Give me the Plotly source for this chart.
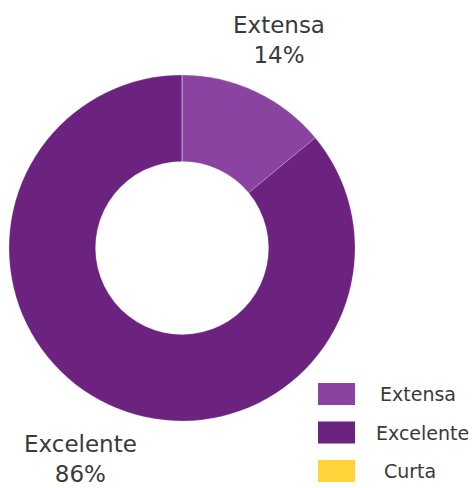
import plotly.graph_objects as go

# Survey answers: share of responses per category
categories = ["Extensa", "Excelente", "Curta"]
shares = [14, 86, 0]
colors = ["#8A43A0", "#6C2380", "#FFD43B"]

W, H = 474, 488
FONT = "'DejaVu Sans', Lato, sans-serif"
TEXT_COLOR = "#3a3a3a"

fig = go.Figure(
    go.Pie(
        labels=categories,
        values=shares,
        hole=0.5,
        sort=False,
        direction="clockwise",
        rotation=0,
        marker=dict(colors=colors, line=dict(color="rgba(255,255,255,0.35)", width=0.6)),
        textinfo="none",
        hoverinfo="label+percent",
        showlegend=False,
        domain=dict(x=[9 / W, 355 / W], y=[1 - 421 / H, 1 - 75 / H]),
    )
)

# Outside slice labels (name + percentage)
label_pos = {"Extensa": (279, 40), "Excelente": (80, 459)}
annotations = []
for cat, val in zip(categories, shares):
    if cat not in label_pos:
        continue
    px, py = label_pos[cat]
    annotations.append(
        dict(
            x=px / W, y=1 - py / H, xref="paper", yref="paper",
            text=f"{cat}<br>{val}%", showarrow=False,
            font=dict(family=FONT, size=23, color=TEXT_COLOR),
            xanchor="center", yanchor="middle", align="center",
        )
    )

# Legend drawn as large colour swatches with captions beside them
shapes = []
row_top = 383
row_step = 38.5
caption_x = [418, 422, 410]
for i, (cat, col) in enumerate(zip(categories, colors)):
    y0 = row_top + i * row_step
    shapes.append(
        dict(
            type="rect", xref="paper", yref="paper",
            x0=318 / W, x1=355 / W, y0=1 - (y0 + 22) / H, y1=1 - y0 / H,
            fillcolor=col, line=dict(width=0),
        )
    )
    annotations.append(
        dict(
            x=caption_x[i] / W, y=1 - (y0 + 11) / H, xref="paper", yref="paper",
            text=cat, showarrow=False,
            font=dict(family=FONT, size=19, color=TEXT_COLOR),
            xanchor="center", yanchor="middle",
        )
    )

fig.update_layout(
    width=W, height=H,
    margin=dict(l=0, r=0, t=0, b=0),
    paper_bgcolor="white", plot_bgcolor="white",
    annotations=annotations,
    shapes=shapes,
)

fig.write_html("out.html")
